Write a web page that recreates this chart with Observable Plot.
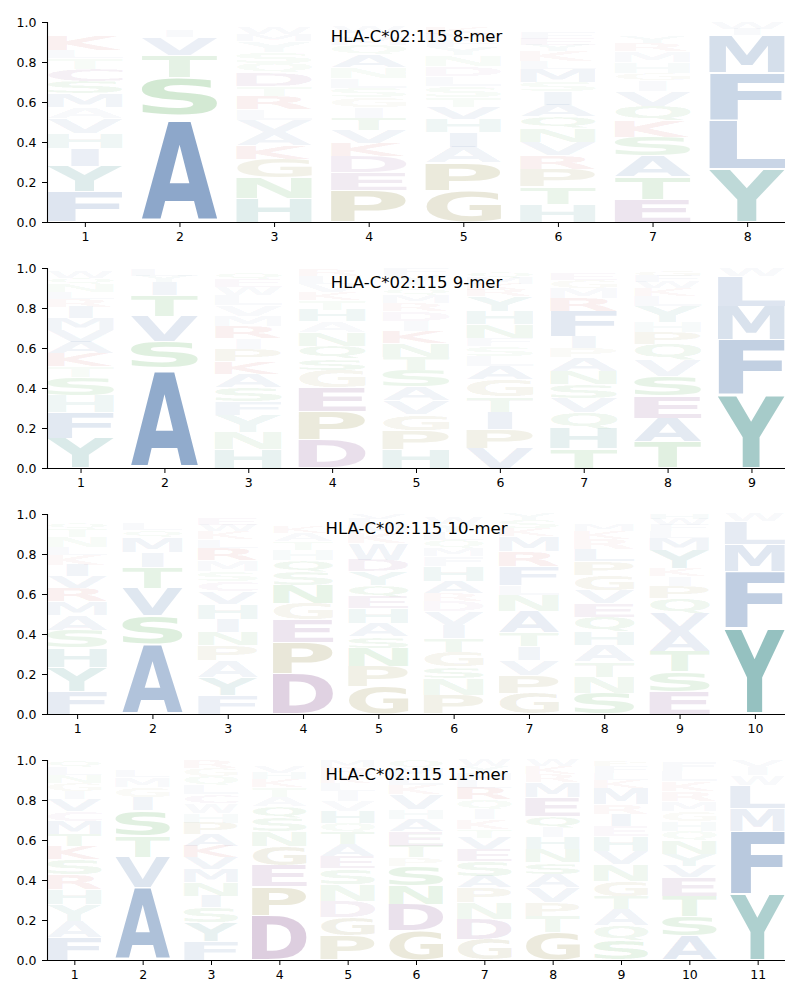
<!DOCTYPE html>
<html><head><meta charset="utf-8">
<script src="https://cdn.jsdelivr.net/npm/d3@7"></script>
<script src="https://cdn.jsdelivr.net/npm/@observablehq/plot@0.6"></script>
<style>
body{margin:0;background:#fff;font-family:"DejaVu Sans",sans-serif;}
#chart svg{display:block;overflow:visible;}
</style></head><body><div id="chart"></div>
<script>
const allele = "HLA-C*02:115";
const yTicks = [0, 0.2, 0.4, 0.6, 0.8, 1.0];

// Each column: letters stacked bottom-up with their probability (height)
const mer8 = [
  [["F",.15],["Y",.13],["I",.09],["H",.075],["V",.075],["A",.055],["M",.07],["S",.06],["C",.06],["T",.055],["L",.04],["K",.075],["W",.02],["E",.015],["Q",.015]],
  [["A",.51],["G",.012],["C",.013],["S",.19],["T",.11],["V",.09],["I",.035],["L",.02],["M",.01]],
  [["H",.12],["N",.1],["G",.095],["K",.07],["A",.065],["V",.06],["L",.055],["R",.065],["T",.05],["D",.065],["Q",.05],["S",.055],["Y",.055],["M",.035],["W",.03]],
  [["P",.16],["E",.09],["D",.08],["K",.065],["V",.065],["T",.06],["I",.055],["G",.05],["S",.045],["L",.05],["N",.055],["A",.06],["Q",.05],["M",.04],["Y",.02],["W",.03]],
  [["G",.155],["P",.14],["A",.08],["I",.075],["H",.065],["V",.06],["T",.05],["S",.055],["L",.05],["D",.05],["N",.055],["Y",.04],["F",.035],["M",.03],["K",.03],["W",.02]],
  [["H",.09],["T",.085],["P",.09],["R",.07],["V",.065],["N",.07],["Q",.058],["A",.058],["I",.065],["S",.05],["M",.065],["L",.04],["K",.05],["Y",.03],["E",.03],["F",.03],["W",.02]],
  [["E",.115],["T",.11],["A",.105],["S",.095],["K",.08],["Q",.075],["V",.075],["I",.055],["G",.035],["H",.055],["M",.055],["R",.04],["Y",.03],["W",.02],["N",.02]],
  [["Y",.265],["L",.245],["F",.235],["M",.19],["I",.03],["W",.03]]
];
const mer9 = [
  [["Y",.148],["F",.13],["H",.085],["S",.09],["T",.055],["K",.065],["A",.058],["V",.058],["M",.058],["I",.058],["R",.04],["L",.035],["N",.04],["Q",.03],["W",.03]],
  [["A",.49],["C",.01],["S",.135],["V",.125],["T",.105],["I",.065],["Y",.03],["L",.03]],
  [["H",.093],["N",.085],["Y",.085],["F",.068],["S",.072],["A",.067],["K",.063],["P",.062],["I",.055],["R",.058],["M",.053],["V",.055],["L",.05],["W",.04],["E",.04],["Q",.035]],
  [["D",.14],["P",.142],["E",.12],["G",.088],["S",.058],["Q",.062],["N",.067],["A",.055],["H",.058],["T",.05],["K",.04],["V",.04],["L",.04],["R",.03]],
  [["H",.093],["P",.095],["G",.08],["V",.07],["A",.067],["S",.083],["T",.067],["N",.07],["K",.06],["I",.05],["D",.05],["R",.04],["M",.04],["Q",.03],["W",.02],["Y",.05],["F",.03]],
  [["V",.098],["P",.095],["I",.088],["T",.075],["G",.087],["A",.067],["L",.05],["S",.05],["F",.04],["N",.067],["H",.067],["Y",.075],["R",.03],["K",.03],["M",.03],["Q",.03]],
  [["T",.098],["H",.1],["Q",.08],["V",.072],["S",.067],["N",.067],["A",.067],["P",.05],["I",.058],["F",.125],["R",.065],["M",.05],["G",.04],["E",.03],["W",.02]],
  [["T",.13],["A",.12],["E",.11],["S",.1],["V",.08],["Q",.08],["P",.058],["H",.05],["Y",.083],["L",.05],["K",.04],["W",.03],["F",.03],["G",.03]],
  [["Y",.365],["F",.275],["M",.167],["L",.15],["W",.04]]
];
const mer10 = [
  [["F",.115],["Y",.12],["H",.097],["S",.088],["A",.075],["M",.067],["R",.067],["V",.058],["I",.058],["K",.05],["L",.04],["N",.05],["T",.04],["Q",.03],["W",.025],["E",.02]],
  [["A",.35],["S",.14],["V",.14],["T",.105],["I",.075],["M",.075],["Q",.035],["L",.03],["C",.025],["Y",.025]],
  [["F",.092],["Y",.09],["A",.085],["P",.075],["N",.067],["I",.067],["H",.075],["V",.063],["C",.05],["S",.05],["M",.053],["R",.063],["L",.042],["K",.04],["W",.03],["E",.03],["Q",.025]],
  [["D",.2],["P",.158],["E",.112],["G",.083],["N",.092],["S",.067],["Q",.058],["H",.05],["T",.042],["A",.04],["K",.03],["R",.02],["V",.02],["L",.02]],
  [["G",.137],["P",.1],["N",.092],["S",.058],["A",.067],["H",.075],["E",.058],["Q",.058],["Y",.067],["D",.058],["W",.083],["K",.05],["M",.04],["L",.03],["V",.027]],
  [["P",.095],["N",.083],["S",.058],["G",.075],["T",.067],["I",.067],["V",.067],["D",.05],["R",.04],["A",.06],["H",.075],["F",.05],["M",.042],["Q",.04],["L",.04],["Y",.04],["W",.035]],
  [["G",.103],["P",.092],["V",.075],["I",.067],["T",.067],["A",.108],["N",.083],["L",.05],["F",.092],["R",.075],["M",.075],["K",.04],["S",.04],["Y",.033]],
  [["S",.103],["N",.083],["T",.075],["A",.083],["H",.067],["Q",.075],["E",.067],["V",.067],["G",.075],["P",.067],["L",.06],["R",.05],["K",.04],["M",.03]],
  [["E",.112],["S",.1],["T",.1],["A",.1],["V",.092],["Q",.075],["P",.058],["I",.05],["K",.042],["Y",.092],["M",.058],["L",.033],["F",.03],["W",.03],["H",.028]],
  [["Y",.43],["F",.282],["M",.136],["L",.115],["W",.037]]
];
const mer11 = [
  [["F",.112],["A",.083],["Y",.083],["H",.075],["R",.075],["S",.075],["K",.067],["T",.058],["M",.067],["C",.05],["V",.058],["I",.042],["G",.04],["N",.04],["L",.04],["Q",.035]],
  [["A",.362],["V",.153],["T",.105],["S",.128],["I",.067],["G",.05],["M",.05],["L",.03],["Y",.025],["C",.025]],
  [["F",.095],["Y",.092],["S",.075],["I",.058],["N",.067],["M",.067],["V",.058],["K",.058],["A",.058],["P",.058],["H",.05],["W",.05],["C",.042],["L",.045],["Q",.045],["G",.04],["R",.04]],
  [["D",.22],["P",.147],["E",.105],["G",.097],["N",.072],["S",.067],["Q",.058],["A",.05],["T",.05],["K",.04],["H",.03],["V",.03],["L",.022]],
  [["P",.12],["G",.092],["D",.083],["N",.083],["S",.08],["E",.062],["A",.058],["T",.058],["Q",.05],["H",.058],["V",.05],["I",.05],["L",.04],["K",.04],["R",.04],["M",.035]],
  [["G",.145],["D",.133],["N",.092],["S",.1],["P",.042],["T",.058],["E",.075],["A",.058],["H",.05],["V",.075],["K",.045],["L",.045],["M",.042],["Q",.04]],
  [["G",.103],["D",.1],["N",.083],["P",.075],["A",.058],["S",.075],["E",.058],["V",.058],["T",.042],["K",.05],["I",.05],["Q",.05],["R",.058],["L",.04],["M",.035],["Y",.035],["W",.03]],
  [["G",.137],["T",.083],["P",.067],["V",.075],["A",.067],["S",.058],["N",.067],["H",.058],["I",.05],["Q",.058],["E",.092],["M",.075],["R",.04],["K",.04],["W",.033]],
  [["S",.095],["Q",.075],["A",.083],["T",.067],["G",.075],["N",.083],["V",.067],["H",.075],["E",.05],["I",.058],["R",.05],["M",.083],["K",.04],["L",.035],["F",.035],["P",.028]],
  [["A",.12],["S",.1],["T",.1],["E",.092],["V",.058],["Y",.058],["N",.067],["Q",.05],["H",.05],["G",.05],["M",.05],["R",.05],["K",.05],["L",.05],["F",.047]],
  [["Y",.33],["F",.315],["M",.115],["L",.115],["W",.05],["I",.04],["V",.03]]
];
const panels = [[8, mer8], [9, mer9], [10, mer10], [11, mer11]];

// amino-acid colour groups
const groupRGB = {
  blue: [31, 83, 151], teal: [10, 112, 108], green: [20, 140, 20],
  purple: [100, 30, 110], red: [190, 15, 15], olive: [115, 105, 10]
};
const aaGroup = {
  A:"blue", V:"blue", L:"blue", I:"blue", M:"blue", F:"blue", W:"blue",
  Y:"teal", H:"teal",
  S:"green", T:"green", N:"green", Q:"green",
  D:"purple", E:"purple", C:"purple",
  K:"red", R:"red",
  P:"olive", G:"olive"
};

// glyph ink metrics
const ctx = document.createElement("canvas").getContext("2d");
ctx.font = "bold 100px 'DejaVu Sans'";
const metricCache = {};
function metrics(ch) {
  if (!metricCache[ch]) {
    const m = ctx.measureText(ch);
    metricCache[ch] = {left: m.actualBoundingBoxLeft, right: m.actualBoundingBoxRight,
      ascent: m.actualBoundingBoxAscent, descent: m.actualBoundingBoxDescent};
  }
  return metricCache[ch];
}
const eM = metrics("E");
const eWidth = eM.left + eM.right;
const colWidth = 0.8, vpad = 0.04;

const chart = document.getElementById("chart");
for (const [n, cols] of panels) {
  const rows = [];
  cols.forEach((col, i) => {
    let cum = 0;
    for (const [aa, h] of col) {
      const [r, g, b] = groupRGB[aaGroup[aa]];
      rows.push({pos: i + 1, aa, y1: cum, y2: cum + h, h, fill: `rgba(${r},${g},${b},${Math.min(1, h).toFixed(3)})`});
      cum += h;
    }
  });
  const positions = d3.range(1, n + 1);
  const plot = Plot.plot({
    width: 800, height: 246,
    marginLeft: 47, marginRight: 15, marginTop: 22, marginBottom: 24,
    style: {fontFamily: "'DejaVu Sans', sans-serif", fontSize: "12.5px", background: "white", color: "black"},
    x: {domain: [0.6, n + 0.4]},
    y: {domain: [0, 1]},
    marks: [
      Plot.text(rows, {x: "pos", y: d => (d.y1 + d.y2) / 2, text: "aa", fill: "fill"}),
      Plot.ruleX([0.6], {stroke: "black", strokeWidth: 1.1}),
      Plot.ruleY([0], {stroke: "black", strokeWidth: 1.1}),
      Plot.axisX({ticks: positions, tickFormat: d => String(d), tickSize: 5, tickPadding: 5, fontSize: 12.5, label: null}),
      Plot.axisY({ticks: yTicks, tickFormat: d3.format(".1f"), tickSize: 5, tickPadding: 6, fontSize: 12.5, label: null}),
      Plot.text([`${allele} ${n}-mer`], {frameAnchor: "top", dy: 14, fontSize: 16.5, lineAnchor: "middle", fill: "black"})
    ]
  });
  chart.appendChild(plot);
  const xs = plot.scale("x"), ys = plot.scale("y");
  const g = plot.querySelector('g[aria-label="text"]');
  g.removeAttribute("transform");
  const texts = g.querySelectorAll("text");
  texts.forEach((el, i) => {
    const d = rows[i];
    const m = metrics(d.aa);
    const inkW = m.left + m.right, inkH = m.ascent + m.descent;
    const x0 = xs.apply(d.pos - colWidth / 2), x1 = xs.apply(d.pos + colWidth / 2);
    const tw = x1 - x0;
    const sx = Math.min(tw / inkW, tw / eWidth);
    const pad = d.h * vpad / 2;
    const yb = ys.apply(d.y1 + pad), yt = ys.apply(d.y2 - pad);
    const sy = (yb - yt) / inkH;
    const off = x0 + (tw - sx * inkW) / 2;
    el.setAttribute("transform", `translate(${off + sx * m.left},${yb - sy * m.descent}) scale(${sx},${sy})`);
    el.setAttribute("x", 0);
    el.setAttribute("y", 0);
    el.removeAttribute("dy");
    el.setAttribute("font-size", "100px");
    el.setAttribute("font-weight", "bold");
    el.setAttribute("font-family", "DejaVu Sans");
    el.setAttribute("text-anchor", "start");
  });
}
</script></body></html>
